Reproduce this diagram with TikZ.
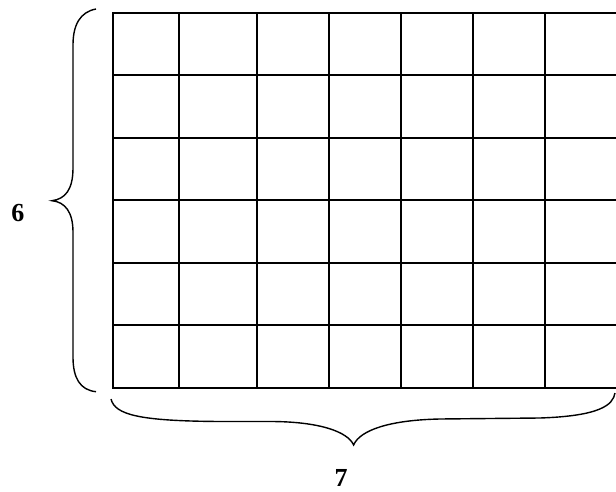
\documentclass[tikz,border=0pt]{standalone}
\usepackage{fontspec}
\setmainfont{Liberation Serif}
\begin{document}
\begin{tikzpicture}[x=1pt,y=-1pt,
  gridline/.style={line width=2pt},
  bracepath/.style={line width=1.4pt},
  lbl/.style={font=\fontsize{26}{30}\selectfont\bfseries, inner sep=0pt, text depth=0pt, anchor=base}]
\useasboundingbox (0,0) rectangle (616,492);
% grid
\foreach \x in {113,179,257,329,401,473,545,617}
  \draw[gridline] (\x,12.7) -- (\x,387.5);
\foreach \i in {0,...,6}
  \draw[gridline] (112,{12.7+\i*62.47}) -- (618,{12.7+\i*62.47});
% left brace
\draw[bracepath] (96,9) .. controls (80,12) and (73,25) .. (73,45) -- (73,168)
  .. controls (73,190) and (65,199) .. (52,200.7)
  .. controls (65,202) and (73,212) .. (73,232) -- (73,357)
  .. controls (73,378) and (80,390) .. (96,391.7);
% bottom brace
\draw[bracepath] (111,399) .. controls (115,415) and (140,421) .. (220,421.5) -- (270,421.5)
  .. controls (320,421.5) and (348,432) .. (353.6,445)
  .. controls (360,430) and (390,420) .. (440,419) -- (540,418)
  .. controls (600,416) and (613,405) .. (615,393);
\node[lbl] (six) at (18,221) {6};
\node[lbl] (seven) at (341,486) {7};
\end{tikzpicture}
\end{document}
